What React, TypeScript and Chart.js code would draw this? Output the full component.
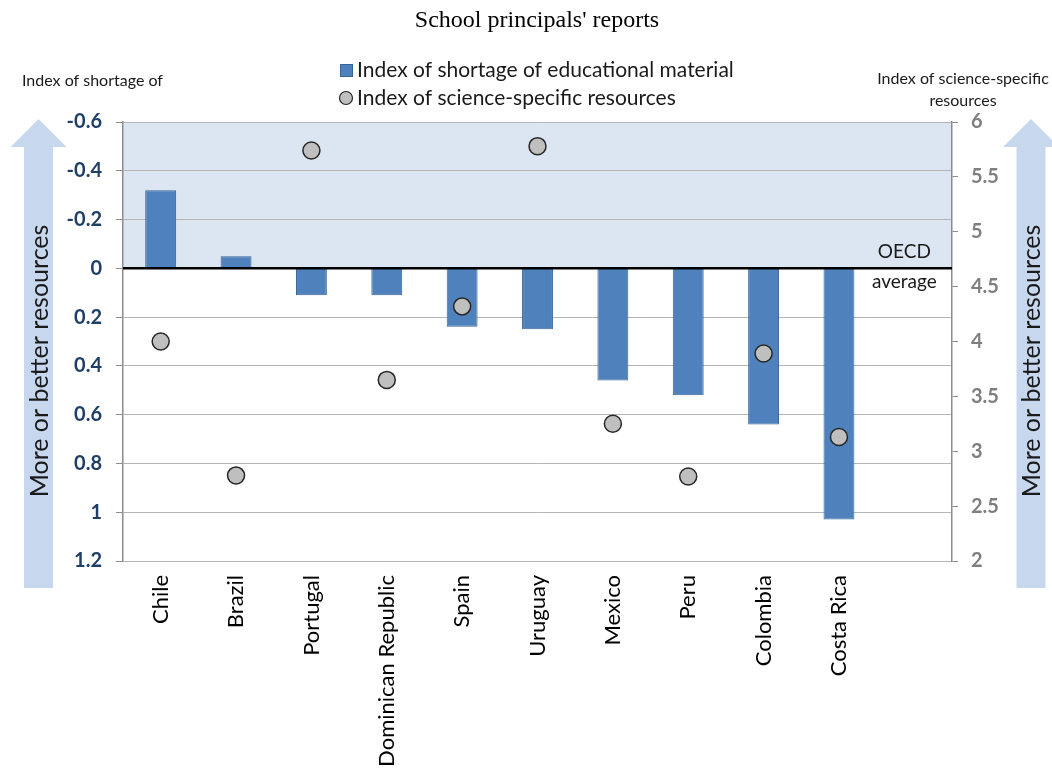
import { useEffect, useRef } from 'react';
import { Chart, registerables } from 'chart.js';
Chart.register(...registerables);

const categories = ['Chile', 'Brazil', 'Portugal', 'Dominican Republic', 'Spain', 'Uruguay', 'Mexico', 'Peru', 'Colombia', 'Costa Rica', ''];
const shortageValues = [-0.32, -0.05, 0.11, 0.11, 0.24, 0.25, 0.46, 0.52, 0.64, 1.03, null];
const scienceValues = [4.0, 2.78, 5.74, 3.65, 4.32, 5.78, 3.25, 2.77, 3.89, 3.13, null];
const leftAxisRange = [-0.6, 1.2];
const leftAxisStep = 0.2;
const rightAxisRange = [2, 6];
const rightAxisStep = 0.5;

const SANS = 'Lato, "Open Sans", sans-serif';

export default function App() {
  const ref = useRef<HTMLCanvasElement>(null);
  useEffect(() => {
    document.body.style.margin = '0';
    const canvas = ref.current!;

    const decor = {
      id: 'decor',
      beforeDraw(chart: any) {
        const { ctx, chartArea, scales } = chart;
        const y = scales.y;
        const top = y.getPixelForValue(leftAxisRange[0]);
        const z = y.getPixelForValue(0);
        ctx.save();
        ctx.fillStyle = '#dce6f2';
        ctx.fillRect(chartArea.left, top, chartArea.right - chartArea.left, z - top);
        ctx.restore();
      },
      afterDatasetsDraw(chart: any) {
        const { ctx, chartArea, scales } = chart;
        const z = scales.y.getPixelForValue(0);
        ctx.save();
        ctx.strokeStyle = '#000';
        ctx.lineWidth = 2.5;
        ctx.beginPath();
        ctx.moveTo(chartArea.left, z);
        ctx.lineTo(chartArea.right, z);
        ctx.stroke();
        ctx.restore();
      },
      afterDraw(chart: any) {
        const { ctx, scales } = chart;
        ctx.save();
        // title
        ctx.fillStyle = '#000';
        ctx.font = '24px "Liberation Serif", serif';
        ctx.textAlign = 'center';
        ctx.textBaseline = 'middle';
        ctx.fillText("School principals' reports", 537, 21);

        // legend
        ctx.fillStyle = '#4f81bd';
        ctx.strokeStyle = '#3a6496';
        ctx.lineWidth = 1;
        ctx.fillRect(340, 64, 12, 12);
        ctx.strokeRect(340.5, 64.5, 12, 12);
        ctx.beginPath();
        ctx.arc(346, 98, 6.5, 0, Math.PI * 2);
        ctx.fillStyle = '#bfbfbf';
        ctx.fill();
        ctx.strokeStyle = '#262626';
        ctx.lineWidth = 1.2;
        ctx.stroke();
        ctx.fillStyle = '#1a1a1a';
        ctx.font = `21px ${SANS}`;
        ctx.textAlign = 'left';
        ctx.fillText('Index of shortage of educational material', 357, 70);
        ctx.fillText('Index of science-specific resources', 357, 98);

        // axis titles
        ctx.font = `16px ${SANS}`;
        ctx.textAlign = 'left';
        ctx.fillText('Index of shortage of', 22, 81);
        ctx.textAlign = 'center';
        ctx.fillText('Index of science-specific', 963, 79);
        ctx.fillText('resources', 963, 101);

        // OECD average label
        ctx.font = `19px ${SANS}`;
        const xLast = scales.x.getPixelForValue(categories.length - 1);
        ctx.fillText('OECD', xLast - 10, 252);
        ctx.fillText('average', xLast - 10, 282);

        // arrows
        const drawArrow = (cx: number) => {
          ctx.fillStyle = '#c6d7ee';
          ctx.beginPath();
          ctx.moveTo(cx, 119);
          ctx.lineTo(cx + 28, 147);
          ctx.lineTo(cx + 14.5, 147);
          ctx.lineTo(cx + 14.5, 588);
          ctx.lineTo(cx - 14.5, 588);
          ctx.lineTo(cx - 14.5, 147);
          ctx.lineTo(cx - 28, 147);
          ctx.closePath();
          ctx.fill();
          ctx.save();
          ctx.translate(cx + 1, 361);
          ctx.rotate(-Math.PI / 2);
          ctx.fillStyle = '#1a1a1a';
          ctx.font = `25px ${SANS}`;
          ctx.textAlign = 'center';
          ctx.textBaseline = 'middle';
          ctx.fillText('More or better resources', 0, 0);
          ctx.restore();
        };
        drawArrow(38.5);
        drawArrow(1031);
        ctx.restore();
      },
    };

    const chart = new Chart(canvas, {
      type: 'bar',
      data: {
        labels: categories,
        datasets: [
          {
            type: 'line',
            label: 'Index of science-specific resources',
            data: scienceValues,
            yAxisID: 'y1',
            showLine: false,
            pointRadius: 8.5,
            pointBackgroundColor: '#bfbfbf',
            pointBorderColor: '#262626',
            pointBorderWidth: 1.5,
            order: 0,
          } as any,
          {
            type: 'bar',
            label: 'Index of shortage of educational material',
            data: shortageValues,
            yAxisID: 'y',
            backgroundColor: '#4f81bd',
            borderColor: '#3a6496',
            borderWidth: 1,
            barPercentage: 0.41,
            categoryPercentage: 1,
            order: 1,
          },
        ],
      },
      options: {
        responsive: false,
        animation: false,
        events: [],
        layout: { padding: { top: 122, left: 0, right: 0, bottom: 0 } },
        plugins: { legend: { display: false }, tooltip: { enabled: false }, title: { display: false } },
        scales: {
          x: {
            type: 'category',
            offset: true,
            grid: { display: false, drawTicks: false },
            border: { display: false },
            ticks: {
              minRotation: 90,
              maxRotation: 90,
              autoSkip: false,
              padding: 14,
              color: '#000',
              font: { family: SANS, size: 22 },
            },
            afterFit: (s: any) => { s.height = 210; },
          },
          y: {
            position: 'left',
            reverse: true,
            min: leftAxisRange[0],
            max: leftAxisRange[1],
            ticks: {
              stepSize: leftAxisStep,
              padding: 14,
              color: '#1f3f68',
              font: { family: SANS, size: 20, weight: 'bold' },
              callback: (v: any) => String(Number(Number(v).toFixed(1))),
            },
            grid: { color: '#b5b5b5', lineWidth: 1, tickLength: 7, tickColor: '#8c8c8c' },
            border: { color: '#8c8c8c', width: 1.5 },
            afterFit: (s: any) => { s.width = 123; },
          },
          y1: {
            position: 'right',
            min: rightAxisRange[0],
            max: rightAxisRange[1],
            ticks: {
              stepSize: rightAxisStep,
              padding: 13,
              color: '#7f7f7f',
              font: { family: SANS, size: 20, weight: 'bold' },
              callback: (v: any) => String(Number(Number(v).toFixed(1))),
            },
            grid: { drawOnChartArea: false, tickLength: 6, color: '#8c8c8c' },
            border: { color: '#8c8c8c', width: 1.5 },
            afterFit: (s: any) => { s.width = 100; },
          },
        },
      },
      plugins: [decor],
    });
    return () => chart.destroy();
  }, []);
  return (
    <div style={{ width: 1052, height: 771 }}>
      <canvas ref={ref} width={1052} height={771} style={{ display: 'block' }} />
    </div>
  );
}
